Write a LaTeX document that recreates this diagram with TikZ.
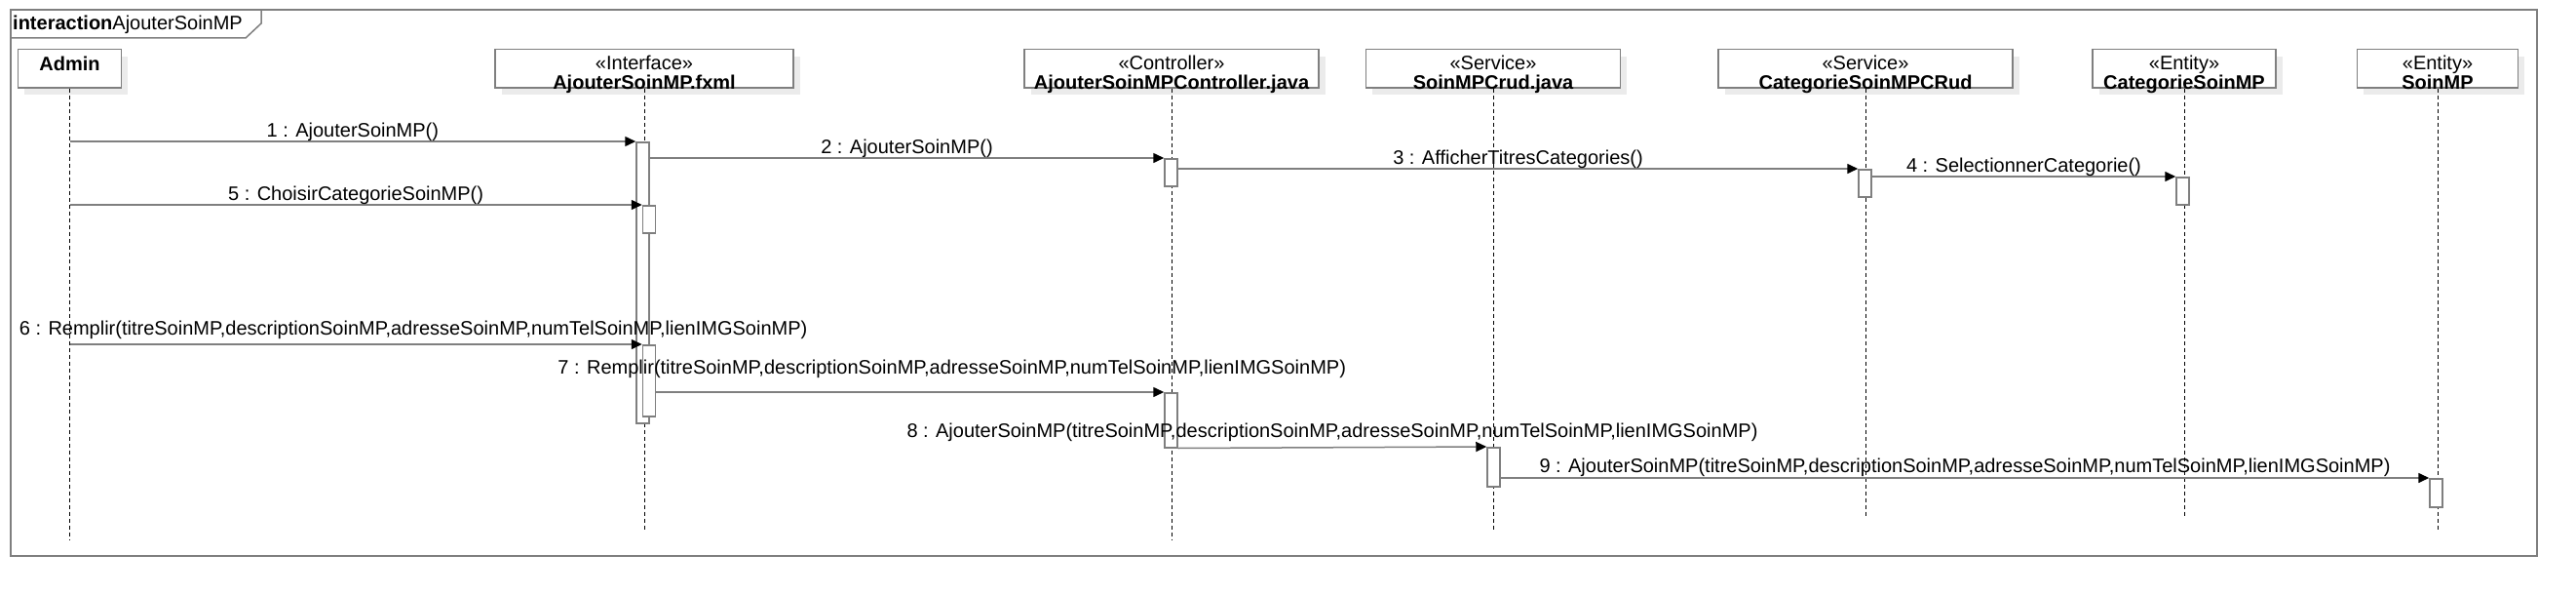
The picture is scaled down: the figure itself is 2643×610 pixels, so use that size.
\documentclass[tikz,border=0pt]{standalone}
\usepackage{fontspec}
\setmainfont{Liberation Sans}
\usetikzlibrary{arrows.meta,shadows}

\begin{document}
\begin{tikzpicture}[x=1pt,y=-1pt,
  every node/.style={font=\fontsize{20}{24}\selectfont,inner sep=0pt},
  boldtext/.style={font=\fontsize{20}{24}\selectfont\bfseries},
  frameline/.style={draw=lineGrey,line width=1.5pt},
  headbox/.style={draw=lineGrey,line width=1.5pt,fill=white,anchor=north,minimum height=39pt,
    drop shadow={shadow xshift=6.5pt,shadow yshift=-7pt,fill=shadowGrey,opacity=1}},
  actbar/.style={draw=lineGrey,line width=1.5pt,fill=white,anchor=north,minimum width=13pt},
  lifeline/.style={black,line width=0.9pt,dash pattern=on 4pt off 3pt},
  msg/.style={draw=lineGrey,line width=1.5pt,-{Triangle[color=black,fill=black,length=11pt,width=10pt]}},
  msglab/.style={anchor=base,yshift=#1},
  msglab/.default=5pt]
\definecolor{lineGrey}{HTML}{7F7F7F}
\definecolor{shadowGrey}{HTML}{EBEBEB}
\useasboundingbox (0,0) rectangle (2643,610);
% frame
\draw[frameline] (11,10) rectangle (2603,570);
\draw[frameline] (268,10) -- (268,24) -- (252,39) -- (11,39);
\node[anchor=base west] (title) at (13,31) {\textbf{interaction}AjouterSoinMP};
% lifeline heads
\node[headbox,minimum width=106pt] (hAdmin) at (71.5,50) {};
\node[boldtext,anchor=base] (hAdmin-nm) at ([yshift=-23pt]hAdmin.north) {Admin};
\foreach \nm/\x/\w/\st/\lab in {hFxml/661/306/Interface/AjouterSoinMP.fxml,
    hCtrl/1202/302/Controller/AjouterSoinMPController.java,
    hCrud/1532/261/Service/SoinMPCrud.java,
    hCatCrud/1914/302/Service/CategorieSoinMPCRud,
    hCatEnt/2241/188/Entity/CategorieSoinMP,
    hSoin/2501/165/Entity/SoinMP} {
  \node[headbox,minimum width=\w pt] (\nm) at (\x,50) {};
  \node[anchor=base] (\nm-st) at ([yshift=-21pt]\nm.north) {«\st»};
  \node[boldtext,anchor=base] (\nm-nm) at ([yshift=-42pt]\nm.north) {\lab};
}
% lifelines
\foreach \nm/\e in {hAdmin/553,hFxml/543,hCtrl/553,hCrud/543,hCatCrud/530,hCatEnt/530,hSoin/543}
  \draw[lifeline] (\nm.south) -- (\nm.south |- 0,\e);
% activation bars
\node[actbar,minimum height=288pt] (fxOuter) at (659.5,145) {};
\node[actbar,minimum height=28pt] (ctrlA) at (1201.5,162) {};
\node[actbar,minimum height=28pt] (catCrudA) at (1913.5,173) {};
\node[actbar,minimum height=28pt] (catEntA) at (2239.5,181) {};
\node[actbar,minimum height=28pt] (fxCat) at (666,210) {};
\node[actbar,minimum height=73pt] (fxFill) at (666,353) {};
\node[actbar,minimum height=56pt] (ctrlB) at (1201.5,402) {};
\node[actbar,minimum height=40pt] (crudA) at (1532.5,458) {};
\node[actbar,minimum height=29pt] (soinA) at (2499.5,490) {};
% messages
\draw[msg] (hAdmin.south |- 0,145) -- node[msglab] (m1) {1 : AjouterSoinMP()} (fxOuter.north west);
\draw[msg] (fxOuter.east |- 0,162) -- node[msglab] (m2) {2 : AjouterSoinMP()} (ctrlA.north west);
\draw[msg] (ctrlA.east |- 0,173) -- node[msglab] (m3) {3 : AfficherTitresCategories()} (catCrudA.north west);
\draw[msg] (catCrudA.east |- 0,181) -- node[msglab] (m4) {4 : SelectionnerCategorie()} (catEntA.north west);
\draw[msg] (hAdmin.south |- 0,210) -- node[msglab] (m5) {5 : ChoisirCategorieSoinMP()} (fxCat.north west);
\draw[msg] (hAdmin.south |- 0,353) -- node[msglab=10pt,xshift=59pt] (m6) {6 : Remplir(titreSoinMP,descriptionSoinMP,adresseSoinMP,numTelSoinMP,lienIMGSoinMP)} (fxFill.north west);
\draw[msg] (fxFill.east |- 0,402) -- node[msglab=19pt,xshift=43pt] (m7) {7 : Remplir(titreSoinMP,descriptionSoinMP,adresseSoinMP,numTelSoinMP,lienIMGSoinMP)} (ctrlB.north west);
\draw[msg] (ctrlB.south east) -- node[msglab=10pt] (m8) {8 : AjouterSoinMP(titreSoinMP,descriptionSoinMP,adresseSoinMP,numTelSoinMP,lienIMGSoinMP)} (crudA.north west);
\draw[msg] (crudA.east |- 0,490) -- node[msglab=6pt] (m9) {9 : AjouterSoinMP(titreSoinMP,descriptionSoinMP,adresseSoinMP,numTelSoinMP,lienIMGSoinMP)} (soinA.north west);
\end{tikzpicture}
\end{document}
